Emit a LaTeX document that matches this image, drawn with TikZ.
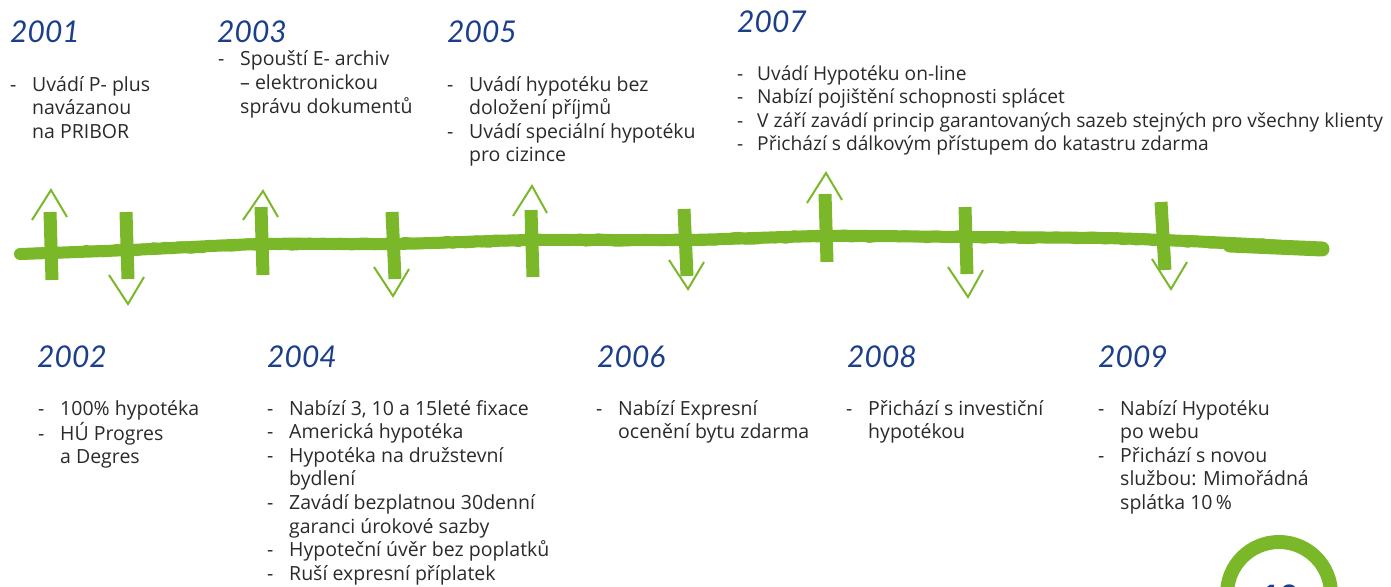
\documentclass[tikz,border=0pt]{standalone}
\usepackage{fontspec}
\setmainfont{Open Sans}
\newfontfamily\yearfont{Lato}
\usetikzlibrary{decorations.pathmorphing}
\definecolor{tlgreen}{HTML}{7AB829}
\definecolor{yearblue}{HTML}{1B3F8B}
\definecolor{txtcol}{HTML}{2B2A29}
\newcommand\bul{\makebox[22pt][l]{-}}
\newcommand\cnt{\hspace*{22pt}}
\newcommand\blk[1]{\begin{tabular}[t]{@{}l@{}}#1\end{tabular}}
\begin{document}
\begin{tikzpicture}[x=1pt,y=-1pt,
  yearlbl/.style={anchor=base west, inner sep=0pt, font=\yearfont\itshape\fontsize{30}{30}\selectfont, text=yearblue},
  items/.style={anchor=base west, inner sep=0pt, font=\fontsize{19.5}{23.6}\selectfont, text=txtcol},
  bar/.style={draw=tlgreen, line width=13pt},
  chev/.style={draw=tlgreen, line width=2pt, line join=miter},
  tline/.style={draw=tlgreen, line width=12pt, line cap=round, line join=round},
  tjag/.style={draw=tlgreen, line width=11pt, line join=round,
     decorate, decoration={random steps, segment length=6pt, amplitude=1.2pt}}]
\useasboundingbox (0,0) rectangle (1391,586);
\clip (0,0) rectangle (1391,586);

% timeline
\coordinate (t0) at (20,254);
\coordinate (tE) at (1322,249);
\draw[tline] plot[smooth] coordinates {(t0) (130,250) (262,244) (393,244) (532,240) (685,240) (826,236) (966,237) (1100,238) (1163,240) (1250,244) (tE)};
\draw[tjag] (t0) -- (130,250) -- (262,244) -- (393,244) -- (532,240) -- (685,240) -- (826,236) -- (966,237) -- (1100,238) -- (1163,240) -- (1250,244) -- (tE);
\draw[tlgreen, line width=15pt, line cap=round] (1230,245) -- (tE);

% ticks
\draw[bar] (50,212) -- (52,280);
\draw[bar] (126,212) -- (128,279);
\draw[bar] (261,207) -- (263,275);
\draw[bar] (392,212) -- (395,279);
\draw[bar] (531,210) -- (533,277);
\draw[bar] (684,209) -- (687,276);
\draw[bar] (825,194) -- (827,262);
\draw[bar] (965,207) -- (967,274);
\draw[bar] (1161,202) -- (1165,270);

% chevrons
\draw[chev] (32,220) -- (51,190) -- (67,217);
\draw[chev] (109,275) -- (128,304) -- (144,277);
\draw[chev] (243,220) -- (263,191) -- (278,217);
\draw[chev] (374,267) -- (393,296) -- (409,269);
\draw[chev] (513,216) -- (532,186) -- (547,213);
\draw[chev] (669,260) -- (688,289) -- (704,262);
\draw[chev] (807,203) -- (826,173) -- (842,200);
\draw[chev] (948,267) -- (968,297) -- (983,270);
\draw[chev] (1152,259) -- (1171,289) -- (1187,262);

% years
\node[yearlbl] (y2001) at (10,43) {2001};
\node[yearlbl] (y2003) at (217,43) {2003};
\node[yearlbl] (y2005) at (447,43) {2005};
\node[yearlbl] (y2007) at (737,33) {2007};
\node[yearlbl] (y2002) at (37,367) {2002};
\node[yearlbl] (y2004) at (267,367) {2004};
\node[yearlbl] (y2006) at (597,367) {2006};
\node[yearlbl] (y2008) at (847,367) {2008};
\node[yearlbl] (y2009) at (1098,367) {2009};

% texts
\node[items] (i2001) at (10,91) {\blk{\bul Uvádí P- plus\\\cnt navázanou\\\cnt na PRIBOR}};
\node[items] (i2003) at (218,66) {\blk{\bul Spouští E- archiv\\\cnt – elektronickou\\\cnt správu dokumentů}};
\node[items] (i2005) at (447,91) {\blk{\bul Uvádí hypotéku bez\\\cnt doložení příjmů\\\bul Uvádí speciální hypotéku\\\cnt pro cizince}};
\node[items, font=\fontsize{19.2}{23.6}\selectfont] (i2007) at (737,80) {\blk{\makebox[20pt][l]{-}Uvádí Hypotéku on-line\\\makebox[20pt][l]{-}Nabízí pojištění schopnosti splácet\\\makebox[20pt][l]{-}V září zavádí princip garantovaných sazeb stejných pro všechny klienty\\\makebox[20pt][l]{-}Přichází s dálkovým přístupem do katastru zdarma}};
\node[items] (i2002) at (38,415) {\blk{\bul 100\% hypotéka\\\bul HÚ Progres\\\cnt a Degres}};
\node[items] (i2004) at (267,415) {\blk{\bul Nabízí 3, 10 a 15leté fixace\\\bul Americká hypotéka\\\bul Hypotéka na družstevní\\\cnt bydlení\\\bul Zavádí bezplatnou 30denní\\\cnt garanci úrokové sazby\\\bul Hypoteční úvěr bez poplatků\\\bul Ruší expresní příplatek}};
\node[items] (i2006) at (596,415) {\blk{\bul Nabízí Expresní\\\cnt ocenění bytu zdarma}};
\node[items] (i2008) at (846,415) {\blk{\bul Přichází s investiční\\\cnt hypotékou}};
\node[items] (i2009) at (1098,415) {\blk{\bul Nabízí Hypotéku\\\cnt po webu\\\bul Přichází s novou\\\cnt službou: Mimořádná\\\cnt splátka 10\,\%}};

% page badge
\draw[tlgreen, line width=14pt] (1279,594) circle (52);
\node[anchor=base west, inner sep=0pt, text=yearblue, font=\bfseries\fontsize{34}{34}\selectfont] (pg) at (1260,609) {10};
\end{tikzpicture}
\end{document}
